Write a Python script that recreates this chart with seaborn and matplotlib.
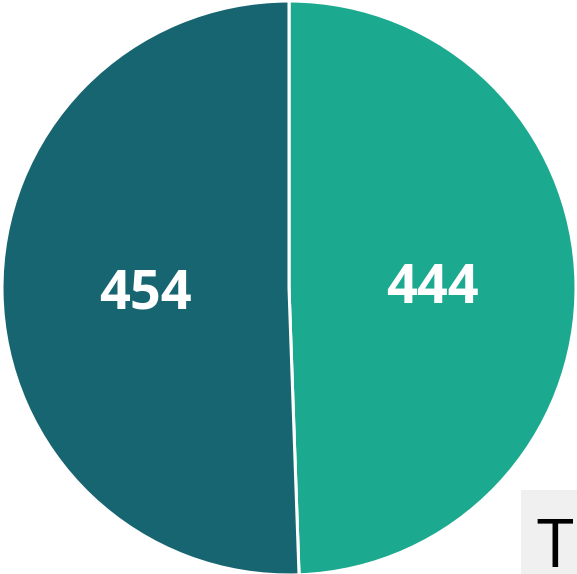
import matplotlib
matplotlib.use("Agg")
import matplotlib.pyplot as plt
from matplotlib.patches import Rectangle
from matplotlib.transforms import offset_copy
import seaborn as sns

# Slice data (clockwise from the top)
categories = ["Group B", "Group A"]
values = [444, 454]
colors = ["#1BAA8F", "#176570"]

sns.set_theme(style="white")
plt.rcParams["font.family"] = ["Open Sans", "DejaVu Sans"]

W, H = 577, 574
fig = plt.figure(figsize=(W / 100, H / 100), dpi=100)
fig.patch.set_facecolor("white")
ax = fig.add_axes([0, 0, 1, 1])

total = sum(values)
wedges, texts, autotexts = ax.pie(
    values,
    colors=colors,
    startangle=90,
    counterclock=False,
    radius=1.0,
    autopct=lambda p: f"{round(p * total / 100)}",
    pctdistance=0.5,
    wedgeprops=dict(edgecolor="white", linewidth=2.2),
    textprops=dict(color="white", fontsize=39, fontweight="bold"),
)
# nudge the value labels slightly downward
for t in autotexts:
    t.set_transform(offset_copy(t.get_transform(), fig=fig, x=0, y=-4, units="dots"))

# Place the pie: centre at (289, 288) px from the top-left, radius 287 px
r_px = 287.0
cx, cy = 289.0, H - 288.0
ax.set_aspect("auto")
ax.set_xlim(-cx / r_px, (W - cx) / r_px)
ax.set_ylim(-cy / r_px, (H - cy) / r_px)
ax.axis("off")

# Total box in the lower-right corner (runs off the edge of the canvas)
fig.patches.append(Rectangle((521 / W, 0), 60 / W, 84 / H,
                             transform=fig.transFigure, facecolor="#F0F0F0",
                             edgecolor="none", zorder=3))
fig.text(537 / W, (H - 568) / H, f"Total: {total}",
         ha="left", va="baseline", fontsize=48, color="black", zorder=4)

fig.savefig("out.png", dpi=100)
